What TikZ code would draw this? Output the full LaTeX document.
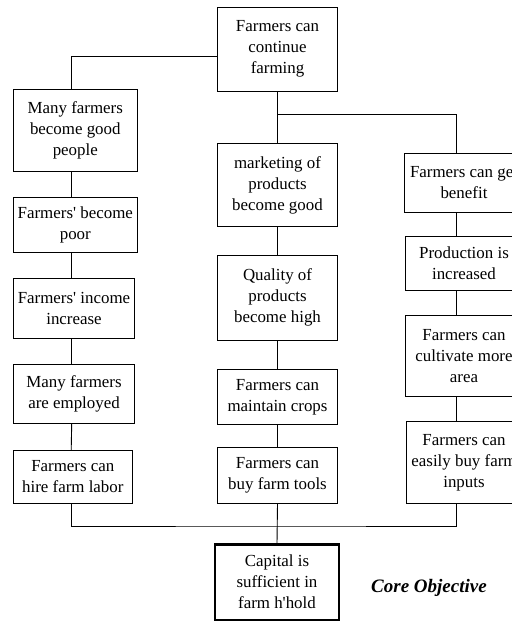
\documentclass[tikz,border=0pt]{standalone}
\usepackage{fontspec}
\setmainfont{Liberation Serif}
\tikzset{bx/.append style={draw, rectangle, align=center, line width=0.9pt, inner sep=0pt, font=\fontsize{16.9}{21}\selectfont}}
\tikzset{cbx/.append style={line width=2.2pt}}
\tikzset{ln/.append style={line width=0.9pt}}
\newcommand{\ap}{\textquotesingle}

\begin{document}
\begin{tikzpicture}[x=1pt,y=-1pt]
                \useasboundingbox (0,0) rectangle (512,622);
                \clip (0,0) rectangle (512,622);
                % top box
                \node[bx,minimum width=119.6pt,minimum height=83.7pt] (top) at (277.5,49.2) {Farmers can\\continue\\farming};
                % left column
                \node[bx,minimum width=124pt,minimum height=81.7pt] (l1) at (75.3,130.2) {Many farmers\\become good\\people};
                \node[bx,minimum width=124pt,minimum height=55.7pt] (l2) at (75.3,224.8) {Farmers\ap{} become\\poor};
                \node[bx,minimum width=121.4pt,minimum height=60pt] (l3) at (74,308.7) {Farmers\ap{} income\\increase};
                \node[bx,minimum width=121.4pt,minimum height=59pt] (l4) at (74,393.8) {Many farmers\\are employed};
                \node[bx,minimum width=119pt,minimum height=52.6pt] (l5) at (72.8,477) {Farmers can\\hire farm labor};
                % middle column
                \node[bx,minimum width=119.6pt,minimum height=83.4pt] (m1) at (277.5,185) {marketing of\\products\\become good};
                \node[bx,minimum width=120.6pt,minimum height=85pt] (m2) at (277.5,297.5) {Quality of\\products\\become high};
                \node[bx,minimum width=120.3pt,minimum height=55.7pt] (m3) at (277.5,396.8) {Farmers can\\maintain crops};
                \node[bx,minimum width=119.6pt,minimum height=55.6pt] (m4) at (277.5,475.5) {Farmers can\\buy farm tools};
                % right column
                \node[bx,minimum width=120pt,minimum height=59pt] (r1) at (464,182.8) {Farmers can get\\benefit};
                \node[bx,minimum width=118pt,minimum height=54.7pt] (r2) at (464,263.4) {Production is\\increased};
                \node[bx,minimum width=118pt,minimum height=81.7pt] (r3) at (464,355.9) {Farmers can\\cultivate more\\area};
                \node[bx,minimum width=115pt,minimum height=81.6pt] (r4) at (464,462.5) {Farmers can\\easily buy farm\\inputs};
                % core
                \node[bx,cbx,minimum width=123.5pt,minimum height=75.5pt] (core) at (277,582.2) {Capital is\\sufficient in\\farm h\ap{}hold};
                \node[font=\fontsize{19}{23}\selectfont\bfseries\itshape] (obj) at (429,588) {Core Objective};
                % links
                \coordinate (jt) at (277.5,114.3);
                \coordinate (jb) at (277.5,526);
                \draw[ln] ([yshift=-7.5pt]top.west) -| ([xshift=-3.6pt]l1.north);
                \draw[ln] ([xshift=-3.6pt]l1.south) -- ([xshift=-3.6pt]l2.north);
                \draw[ln] ([xshift=-3.6pt]l2.south) -- ([xshift=-2.3pt]l3.north);
                \draw[ln] ([xshift=-2.3pt]l3.south) -- ([xshift=-2.3pt]l4.north);
                \draw[ln] ([xshift=-2.3pt]l4.south) -- ([xshift=-1.6pt]l5.north);
                \draw[ln] (top.south) -- (m1.north);
                \draw[ln] (jt) -| ([xshift=-7.3pt]r1.north);
                \draw[ln] (m1.south) -- (m2.north);
                \draw[ln] (m2.south) -- (m3.north);
                \draw[ln] (m3.south) -- (m4.north);
                \draw[ln] ([xshift=-7.3pt]r1.south) -- ([xshift=-7.3pt]r2.north);
                \draw[ln] ([xshift=-7.3pt]r2.south) -- ([xshift=-7.3pt]r3.north);
                \draw[ln] ([xshift=-7.3pt]r3.south) -- ([xshift=-7.3pt]r4.north);
                \draw[ln] ([xshift=-1.6pt]l5.south) |- (jb) -| ([xshift=-7.3pt]r4.south);
                \draw[ln] (m4.south) -- (core.north);
            \end{tikzpicture}
\end{document}
